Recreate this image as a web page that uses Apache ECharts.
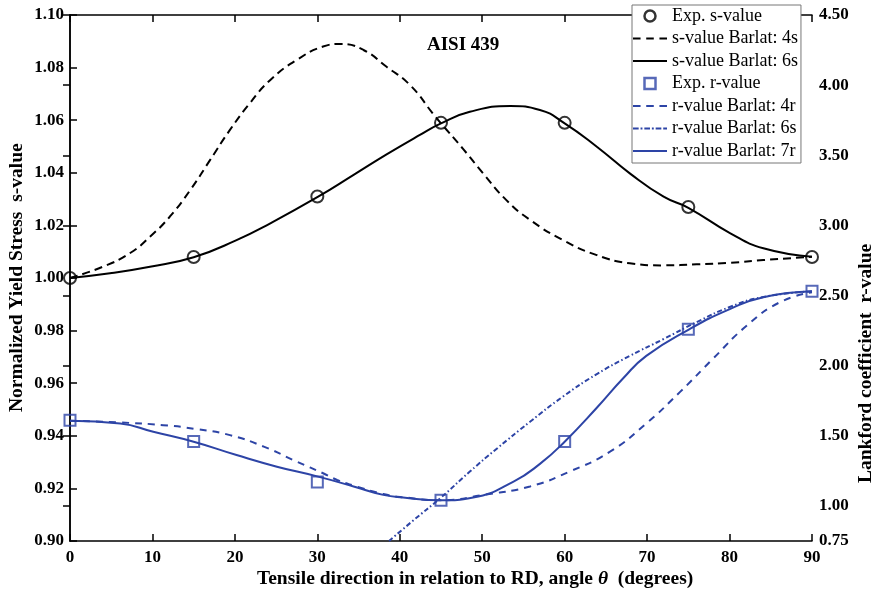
<!DOCTYPE html>
<html>
<head>
<meta charset="utf-8">
<script src="https://cdn.jsdelivr.net/npm/echarts@6/dist/echarts.min.js"></script>
<style>html,body{margin:0;padding:0;background:#fff}#c{width:880px;height:594px}</style>
</head>
<body>
<div id="c"></div>
<script>
// ---- data ----
const xTicks = [0,10,20,30,40,50,60,70,80,90];
const expAngle = [0,15,30,45,60,75,90];
const expS = [1.000,1.008,1.031,1.059,1.059,1.027,1.008];
const expR = [1.61,1.46,1.17,1.04,1.46,2.26,2.53];

const s4Angle = [0,4,7.3,9.7,12.1,14.6,17,19.4,21.8,24.3,27.5,30.7,32.8,35.6,38.4,41.2,44.1,45,47.7,50.1,52.9,55.8,59.8,63.9,67.9,72,76,80.1,84.1,90];
const s4Val = [1.000,1.0043,1.0095,1.0157,1.0233,1.0335,1.0449,1.0563,1.0664,1.0753,1.0829,1.0880,1.0890,1.0867,1.0803,1.0735,1.0622,1.0588,1.0490,1.0398,1.0297,1.0221,1.0144,1.0087,1.0056,1.0048,1.0052,1.0058,1.0068,1.0081];

const s6Angle = [0,4.85,9.7,15,20.2,24.3,30.1,34.4,38.4,42.5,45,48.5,53.4,57,60,63.9,67.9,72,75,80.1,84.1,90];
const s6Val = [1.000,1.0018,1.0043,1.0079,1.0144,1.0208,1.0309,1.0392,1.0470,1.0545,1.0588,1.0632,1.0654,1.0639,1.0588,1.0499,1.0398,1.0309,1.0267,1.0170,1.0113,1.0081];

const r4Angle = [0,6.1,11.3,15.3,19.4,23.5,27.5,30.7,32.4,34.4,38,40.4,45,50.1,55.8,60.6,65.5,69.9,74,78,82.1,86.1,90];
const r4Val = [1.607,1.595,1.576,1.548,1.505,1.423,1.316,1.233,1.185,1.145,1.085,1.062,1.040,1.079,1.139,1.245,1.387,1.588,1.813,2.050,2.286,2.452,2.523];

const r6Angle = [38.7,41.5,45,48.5,51.8,55.8,59.8,63.9,67.9,72,76,80.1,84.1,90];
const r6Val = [0.75,0.89,1.06,1.245,1.41,1.60,1.78,1.94,2.07,2.19,2.31,2.42,2.49,2.53];

const r7Angle = [0,6.1,10.1,15,20.2,25.1,30.1,34.4,38,40.4,45,48.9,53.8,57,60,63.9,67.1,69.9,75,80.1,84.1,90];
const r7Val = [1.607,1.588,1.529,1.458,1.363,1.280,1.209,1.139,1.079,1.060,1.040,1.060,1.174,1.30,1.458,1.70,1.91,2.07,2.256,2.405,2.488,2.53];

const rTickValues = [1,1.5,2,2.5,3,3.5,4,4.5];
const rLabelValues = [0.75,1,1.5,2,2.5,3,3.5,4,4.5];

// ---- chart ----
const zip = (a,b) => a.map((x,i)=>[x,b[i]]);
const FONT = 'Liberation Serif';
const BLUE = '#2d44a6';
const axisLabelStyle = {fontFamily: FONT, fontWeight: 'bold', fontSize: 17, color: '#000'};
const axisLine = {show: true, lineStyle: {color: '#000', width: 1.5}};
const tick = {show: true, inside: true, length: 7, lineStyle: {color: '#000', width: 1.5}};

const ICON_SOLID = 'path://M0,0h36v2h-36z';
const ICON_DASH = 'path://M0,0h8v2h-8z M14,0h8v2h-8z M28,0h8v2h-8z';
const ICON_DASHDOT = 'path://M0,0h6v2h-6z M8,0h2v2h-2z M12,0h6v2h-6z M20,0h2v2h-2z M24,0h6v2h-6z M32,0h4v2h-4z';
const ICON_SQUARE = 'path://M0,0h10v10h-10z';
const lineIconStyle = c => ({color: c, borderWidth: 0, opacity: 1});

const chart = echarts.init(document.getElementById('c'), null, {renderer: 'canvas'});
chart.setOption({
  animation: false,
  backgroundColor: '#fff',
  grid: {left: 70, right: 68, top: 15, bottom: 53, containLabel: false},
  legend: {
    orient: 'vertical', left: 632, top: 5,
    padding: [2, 3, 3, 1],
    itemWidth: 34, itemHeight: 11, itemGap: 4.5,
    backgroundColor: '#fff', borderColor: '#777', borderWidth: 1,
    textStyle: {fontFamily: FONT, fontSize: 18, color: '#000', lineHeight: 18},
    data: [
      {name: 'Exp. s-value', icon: 'circle', itemStyle: {color: 'rgba(0,0,0,0)', borderColor: '#000', borderWidth: 2.5}},
      {name: 's-value Barlat: 4s', icon: ICON_DASH, itemStyle: lineIconStyle('#000')},
      {name: 's-value Barlat: 6s', icon: ICON_SOLID, itemStyle: lineIconStyle('#000')},
      {name: 'Exp. r-value', icon: ICON_SQUARE, itemStyle: {color: 'rgba(0,0,0,0)', borderColor: BLUE, borderWidth: 2.5}},
      {name: 'r-value Barlat: 4r', icon: ICON_DASH, itemStyle: lineIconStyle(BLUE)},
      {name: 'r-value Barlat: 6s', icon: ICON_DASHDOT, itemStyle: lineIconStyle(BLUE)},
      {name: 'r-value Barlat: 7r', icon: ICON_SOLID, itemStyle: lineIconStyle(BLUE)}
    ]
  },
  xAxis: [
    {type: 'value', position: 'bottom', min: 0, max: 90, interval: 10,
     axisLine, axisTick: tick, splitLine: {show: false},
     axisLabel: Object.assign({margin: 8}, axisLabelStyle)},
    {type: 'value', position: 'top', min: 0, max: 90, interval: 10,
     axisLine, axisTick: tick, splitLine: {show: false}, axisLabel: {show: false}}
  ],
  yAxis: [
    {type: 'value', position: 'left', min: 0.9, max: 1.1, interval: 0.02,
     axisLine, axisTick: tick, splitLine: {show: false},
     axisLabel: Object.assign({margin: 6, formatter: v => v.toFixed(2)}, axisLabelStyle)},
    {type: 'value', position: 'right', min: 0.75, max: 4.5, interval: 0.25,
     axisLine, axisTick: Object.assign({customValues: rTickValues}, tick), splitLine: {show: false},
     axisLabel: Object.assign({margin: 7, customValues: rLabelValues, formatter: v => v.toFixed(2)}, axisLabelStyle)}
  ],
  series: [
    {name: 's-value Barlat: 4s', type: 'line', yAxisIndex: 0, data: zip(s4Angle, s4Val), smooth: 0.5, symbol: 'none',
     lineStyle: {color: '#000', width: 2, type: [8, 5]}, itemStyle: {color: '#000'}},
    {name: 's-value Barlat: 6s', type: 'line', yAxisIndex: 0, data: zip(s6Angle, s6Val), smooth: 0.5, symbol: 'none',
     lineStyle: {color: '#000', width: 2}, itemStyle: {color: '#000'}},
    {name: 'r-value Barlat: 4r', type: 'line', yAxisIndex: 1, data: zip(r4Angle, r4Val), smooth: 0.5, symbol: 'none',
     lineStyle: {color: BLUE, width: 2, type: [7, 6]}, itemStyle: {color: BLUE}},
    {name: 'r-value Barlat: 6s', type: 'line', yAxisIndex: 1, data: zip(r6Angle, r6Val), smooth: 0.5, symbol: 'none', clip: true,
     lineStyle: {color: BLUE, width: 2, type: [5, 2.5, 1.5, 2.5]}, itemStyle: {color: BLUE}},
    {name: 'r-value Barlat: 7r', type: 'line', yAxisIndex: 1, data: zip(r7Angle, r7Val), smooth: 0.5, symbol: 'none',
     lineStyle: {color: BLUE, width: 2}, itemStyle: {color: BLUE}},
    {name: 'Exp. s-value', type: 'scatter', yAxisIndex: 0, data: zip(expAngle, expS), symbol: 'circle', symbolSize: 12, clip: false, z: 5,
     itemStyle: {color: 'rgba(0,0,0,0)', borderColor: '#000', borderWidth: 2}},
    {name: 'Exp. r-value', type: 'scatter', yAxisIndex: 1, data: zip(expAngle, expR), symbol: 'rect', symbolSize: 11, clip: false, z: 5,
     itemStyle: {color: 'rgba(0,0,0,0)', borderColor: BLUE, borderWidth: 2}}
  ],
  graphic: [
    {type: 'text', x: 427, y: 36, style: {text: 'AISI 439', font: 'bold 19px "Liberation Serif"', fill: '#000'}},
    {type: 'text', x: 17, y: 412, rotation: Math.PI / 2,
     style: {text: 'Normalized Yield Stress  s-value', font: 'bold 19.5px "Liberation Serif"', fill: '#000', textAlign: 'left', textVerticalAlign: 'middle'}},
    {type: 'text', x: 866, y: 483, rotation: Math.PI / 2,
     style: {text: 'Lankford coefficient  r-value', font: 'bold 19.5px "Liberation Serif"', fill: '#000', textAlign: 'left', textVerticalAlign: 'middle'}},
    {type: 'text', x: 257, y: 579,
     style: {text: 'Tensile direction in relation to RD, angle {it|θ}  (degrees)',
       rich: {it: {fontStyle: 'italic', fontWeight: 'bold', fontSize: 19.5, fontFamily: FONT}},
       font: 'bold 19.5px "Liberation Serif"', fill: '#000', textAlign: 'left', textVerticalAlign: 'middle'}}
  ]
});
</script>
</body>
</html>
